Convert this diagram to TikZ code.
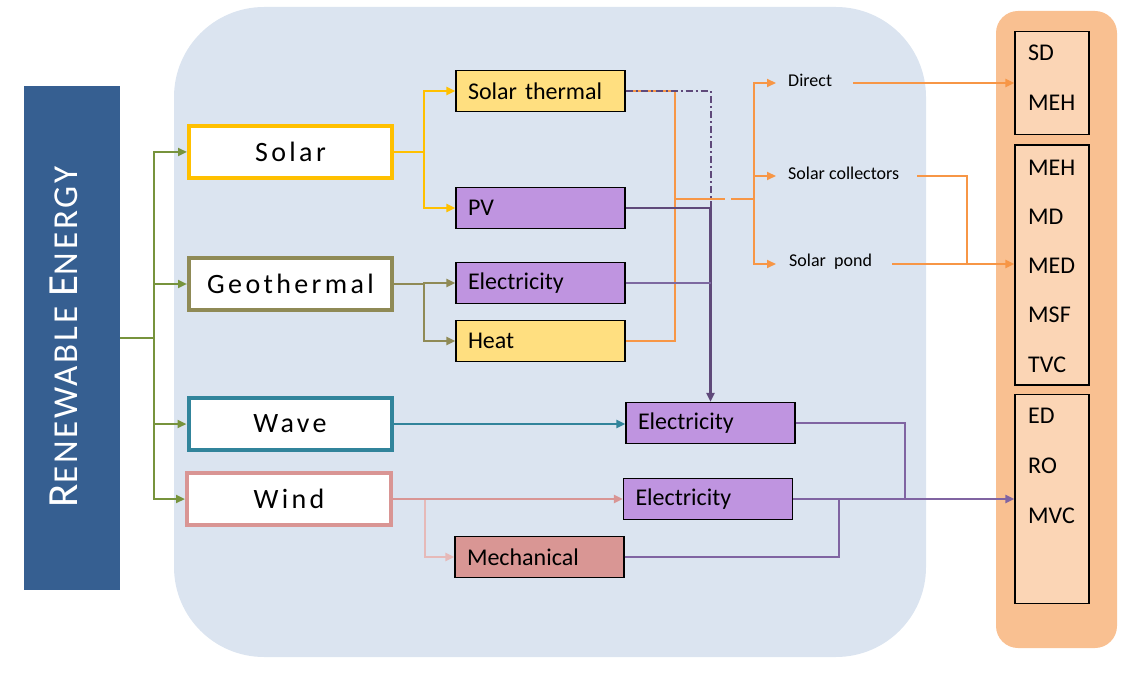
\documentclass[tikz,border=0pt]{standalone}
\usepackage{fontspec}
\setmainfont{Carlito}
\newfontfamily\spaced[LetterSpace=12]{Carlito}
\newfontfamily\respaced[LetterSpace=8]{Carlito}
\usetikzlibrary{arrows.meta}
\definecolor{reblue}{HTML}{365F91}
\definecolor{bgblue}{HTML}{DBE4F0}
\definecolor{bgor}{HTML}{F9C091}
\definecolor{boxor}{HTML}{FBD5B5}
\definecolor{olv}{HTML}{77933C}
\definecolor{sy}{HTML}{FFC000}
\definecolor{geo}{HTML}{8F8A56}
\definecolor{teal}{HTML}{31849B}
\definecolor{pink}{HTML}{D99594}
\definecolor{lpink}{HTML}{E6B9B8}
\definecolor{orng}{HTML}{F79646}
\definecolor{dpur}{HTML}{5F497A}
\definecolor{mpur}{HTML}{7D68A0}
\definecolor{lpur}{HTML}{8064A2}
\definecolor{yfill}{HTML}{FFDF80}
\definecolor{pfill}{HTML}{BF94E0}
\definecolor{mfill}{HTML}{D99694}
\begin{document}
\begin{tikzpicture}[x=1pt,y=-1pt,
  src/.style={draw, line width=4pt, fill=white, minimum width=203pt, minimum height=52pt, inner sep=0pt, font=\fontsize{28}{30}\selectfont\spaced},
  sbox/.style={draw=black, line width=1.2pt, minimum width=169pt, minimum height=41pt, inner xsep=12pt, text width=145pt, align=left, font=\fontsize{24}{26}\selectfont},
  obox/.style={draw=black, line width=1.2pt, fill=boxor, minimum width=74pt, inner sep=0pt},
  olab/.style={anchor=west, inner sep=0pt, font=\fontsize{24}{26}\selectfont},
  slab/.style={anchor=west, inner sep=0pt, font=\fontsize{18}{20}\selectfont},
  arr/.style={-{Triangle[length=9pt,width=8pt]}},
  ln/.style={line width=2pt}
]
\useasboundingbox (0,0) rectangle (1140,676);
% backgrounds
\fill[bgblue, rounded corners=90pt] (174,7) rectangle (926,657);
\fill[bgor, rounded corners=22pt] (996,11) rectangle (1117,648);
\fill[reblue] (24,86) rectangle (120,590);
\node[rotate=90, text=white, inner sep=0pt] (RE) at (64,337) {\respaced{\fontsize{43}{43}\selectfont R}{\fontsize{35}{35}\selectfont ENEWABLE }{\fontsize{43}{43}\selectfont E}{\fontsize{35}{35}\selectfont NERGY}};
\coordinate (REe) at (120,338);

% source nodes
\node[src, draw=sy] (solar) at (290.5,152) {Solar};
\node[src, draw=geo] (geo) at (290.5,284) {Geothermal};
\node[src, draw=teal] (wave) at (290,424) {Wave};
\node[src, draw=pink, minimum width=204pt] (wind) at (289,499) {Wind};

% intermediate boxes
\node[sbox, fill=yfill] (ST) at (540.5,91) {Solar thermal};
\node[sbox, fill=pfill] (PV) at (540.5,208) {PV};
\node[sbox, fill=pfill] (GE) at (540.5,283) {Electricity};
\node[sbox, fill=yfill] (HT) at (540.5,341) {Heat};
\node[sbox, fill=pfill] (EW) at (710.5,423) {Electricity};
\node[sbox, fill=pfill] (EWi) at (708,499) {Electricity};
\node[sbox, fill=mfill] (ME) at (539.5,557) {Mechanical};

% solar thermal labels
\node[slab] (dir) at (788,80) {Direct};
\node[slab] (col) at (788,173) {Solar collectors};
\node[slab] (pond) at (789,262) {Solar\ \ pond};

% right column boxes
\node[obox, minimum height=103pt] (b1) at (1052,83) {};
\node[obox, minimum height=240pt] (b2) at (1052,265) {};
\node[obox, minimum height=209pt] (b3) at (1052,499) {};
\node[olab] (t1) at (1028,53) {SD};
\node[olab] (t2) at (1028,103) {MEH};
\node[olab] (t3) at (1028,168) {MEH};
\node[olab] (t4) at (1028,217) {MD};
\node[olab] (t5) at (1028,266) {MED};
\node[olab] (t6) at (1028,315) {MSF};
\node[olab] (t7) at (1028,365) {TVC};
\node[olab] (t8) at (1028,416) {ED};
\node[olab] (t9) at (1028,466) {RO};
\node[olab] (t10) at (1028,516) {MVC};

% renewable energy fan-out
\draw[olv, line width=2.5pt] (REe) -- (154,338);
\foreach \n in {solar,geo,wave,wind}{
  \draw[olv, line width=2.5pt, arr] (154,338) |- (\n.west);
}

% solar
\draw[sy, ln, arr] (solar.east) -- ++(30,0) |- (ST.west);
\draw[sy, ln, arr] (solar.east) -- ++(30,0) |- (PV.west);
% geothermal
\draw[geo, ln, arr] (geo.east) -- ++(30,0) |- (GE.west);
\draw[geo, ln, arr] (geo.east) -- ++(30,0) |- (HT.west);
% wave
\draw[teal, ln, arr] (wave.east) -- (wave.east -| EW.west);
% wind
\draw[lpink, ln, arr] (wind.east) -- ++(32,0) |- (ME.west);
\draw[pink, ln, arr] (wind.east) -- (wind.east -| EWi.west);

% orange solar-thermal network
\coordinate (oj) at (675,91);
\coordinate (jn) at (754,199);
\draw[orng, ln] (ST.east) -- (oj) -- (675,341) -- (HT.east);
\draw[orng, ln] (675,199) -- (725,199);
\draw[orng, ln] (731,199) -- (jn);
\coordinate (aD) at (776,83);
\coordinate (aC) at (776,176);
\coordinate (aP) at (776,264);
\draw[orng, ln, arr] (jn) |- (aD);
\draw[orng, ln, arr] (jn) |- (aC);
\draw[orng, ln, arr] (jn) |- (aP);
\coordinate (dO) at (853,83);
\coordinate (cO) at (917,176);
\coordinate (pO) at (892,264);
\draw[orng, ln, arr] (dO) -- (dO -| b1.west);
\draw[orng, ln] (cO) -- (967,176) -- (967,264);
\draw[orng, ln, arr] (pO) -- (pO -| b2.west);

% purple network
\draw[dpur, line width=2pt, dash pattern=on 7pt off 3pt on 2pt off 3pt] (ST.east) -- (710.5,91) -- (710.5,208);
\draw[dpur, line width=2.5pt, arr] (PV.east) -| (EW.north);
\draw[mpur, ln] (GE.east) -- (GE.east -| EW.north);

% bottom outputs
\draw[lpur, ln] (EW.east) -- (905,423) -- (905,499);
\draw[lpur, ln] (ME.east) -| (839,499);
\draw[lpur, ln, arr] (EWi.east) -- (EWi.east -| b3.west);
\end{tikzpicture}
\end{document}
